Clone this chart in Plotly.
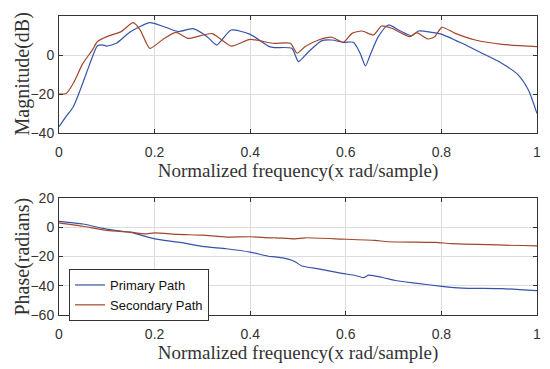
import plotly.graph_objects as go

# Magnitude (dB)
mag_p_x = [0, 0.015, 0.03, 0.045, 0.06, 0.07, 0.08, 0.09, 0.1, 0.12, 0.15, 0.19, 0.22, 0.25, 0.28, 0.31, 0.33, 0.36, 0.4, 0.44,
           0.452, 0.487, 0.501, 0.522, 0.55, 0.571, 0.595, 0.616, 0.63, 0.641, 0.651, 0.668, 0.689, 0.714,
           0.738, 0.752, 0.78, 0.801, 0.843, 0.885, 0.927, 0.961, 0.982, 1.0]
mag_p_y = [-36.8, -31.5, -26.5, -17.5, -7.5, -0.9, 4.6, 5.2, 4.6, 6, 12, 16.6, 14.5, 12, 13.5, 9.4, 5.1, 12.8, 10.6, 4.3,
           3.8, 3.4, -3.4, 1.7, 7.4, 7.7, 6.5, 6.5, 0.9, -5.6, 0, 9.4, 15.4, 12.3,
           9.9, 12.3, 11.6, 10.6, 6, 0.9, -4.3, -10.3, -18, -30]
mag_s_x = [0, 0.015, 0.03, 0.05, 0.07, 0.08, 0.1, 0.13, 0.155, 0.17, 0.19, 0.22, 0.245, 0.27, 0.32, 0.36, 0.4, 0.44,
           0.452, 0.484, 0.498, 0.515, 0.543, 0.571, 0.595, 0.613, 0.634, 0.658, 0.675, 0.696, 0.734, 0.748,
           0.772, 0.786, 0.801, 0.829, 0.871, 0.927, 1.0]
mag_s_y = [-20, -19.7, -14.5, -4.3, 2.6, 6.8, 9.4, 12, 16.6, 12.8, 3.4, 8.5, 11.6, 8.5, 11, 4.6, 8, 6.3,
           6, 6, 0.9, 4.3, 7.7, 9.1, 6.5, 11.1, 12.3, 10.3, 14.9, 13.7, 9.4, 11.5,
           8.2, 9.4, 14.2, 11.1, 7.7, 5.5, 4.3]

# Phase (radians)
ph_p_x = [0, 0.05, 0.1, 0.15, 0.2, 0.25, 0.3, 0.35, 0.4, 0.44, 0.452, 0.48, 0.494, 0.508, 0.543, 0.592,
          0.62, 0.637, 0.648, 0.675, 0.703, 0.745, 0.801, 0.843, 0.927, 1.0]
ph_p_y = [4, 2.2, -1.3, -3.5, -7.9, -10.2, -13.1, -14.7, -17, -20, -20.2, -21.8, -23.6, -26.5, -28.5, -31.5,
          -33, -34.4, -32.8, -34.2, -36.4, -38.2, -40.4, -41.6, -42, -43.4]
ph_s_x = [0, 0.05, 0.1, 0.15, 0.18, 0.2, 0.25, 0.3, 0.35, 0.4, 0.44, 0.452, 0.494, 0.515, 0.592, 0.661,
          0.689, 0.787, 0.822, 1.0]
ph_s_y = [3, 0.7, -2.2, -3.4, -4.5, -3.8, -4.9, -5.4, -6.7, -6.5, -7.2, -7.2, -7.9, -7.2, -8.1, -9,
          -9.9, -10.3, -11.2, -12.8]

x_ticks = [0, 0.2, 0.4, 0.6, 0.8, 1]
x_tick_labels = ["0", "0.2", "0.4", "0.6", "0.8", "1"]
mag_ticks = [-40, -20, 0, 20]
ph_ticks = [-60, -40, -20, 0, 20]

BLUE = "#3553A8"
RED = "#A2462C"

# page body has an 8px default margin; size the figure so it fills the window
W, H, OFF = 542, 361, 8
def fx(p):
    return (p - OFF) / W
def fy(p):
    return 1 - (p - OFF) / H

fig = go.Figure()
fig.add_trace(go.Scatter(x=mag_p_x, y=mag_p_y, mode="lines", line=dict(color=BLUE, width=1.2, shape="spline", smoothing=0.6),
                         xaxis="x", yaxis="y", showlegend=False))
fig.add_trace(go.Scatter(x=mag_s_x, y=mag_s_y, mode="lines", line=dict(color=RED, width=1.2, shape="spline", smoothing=0.6),
                         xaxis="x", yaxis="y", showlegend=False))
fig.add_trace(go.Scatter(x=ph_p_x, y=ph_p_y, mode="lines", line=dict(color=BLUE, width=1.2, shape="spline", smoothing=0.5),
                         xaxis="x2", yaxis="y2", name="Primary Path"))
fig.add_trace(go.Scatter(x=ph_s_x, y=ph_s_y, mode="lines", line=dict(color=RED, width=1.2, shape="spline", smoothing=0.5),
                         xaxis="x2", yaxis="y2", name="Secondary Path"))

tick_font = dict(family="Liberation Sans, Arial", size=14, color="#333")
xtitle_font = dict(family="Liberation Serif, Times New Roman", size=19, color="#333")
ytitle_font = dict(family="Liberation Serif, Times New Roman", size=20, color="#333")

common_x = dict(range=[0, 1], tickvals=x_ticks, ticktext=x_tick_labels,
                showgrid=True, gridcolor="#DDDDDD", gridwidth=1, zeroline=False,
                showline=True, linecolor="#333", linewidth=1, mirror="ticks",
                ticks="inside", ticklen=4, tickcolor="#333", tickfont=tick_font,
                ticklabelstandoff=6, automargin=False,
                domain=[fx(59), fx(537)],
                title=dict(text="Normalized frequency(x rad/sample)", font=xtitle_font, standoff=0))
common_y = dict(showgrid=True, gridcolor="#DDDDDD", gridwidth=1, zeroline=False,
                showline=True, linecolor="#333", linewidth=1, mirror="ticks",
                ticks="inside", ticklen=4, tickcolor="#333", tickfont=tick_font,
                ticklabelstandoff=1, automargin=False)

top_dom = [fy(133), fy(16)]
bot_dom = [fy(315), fy(198)]

fig.update_layout(
    width=W, height=H,
    margin=dict(l=0, r=0, t=0, b=0),
    paper_bgcolor="white", plot_bgcolor="white",
    xaxis=dict(common_x, anchor="y"),
    yaxis=dict(common_y, range=[-40, 20], tickvals=mag_ticks, anchor="x", domain=top_dom),
    xaxis2=dict(common_x, anchor="y2"),
    yaxis2=dict(common_y, range=[-60, 20], tickvals=ph_ticks, anchor="x2", domain=bot_dom),
    legend=dict(x=fx(69), y=fy(269), xanchor="left", yanchor="top",
                bgcolor="white", bordercolor="#333", borderwidth=1,
                font=dict(family="Liberation Sans, Arial", size=13, color="#111"),
                tracegroupgap=0, itemwidth=30),
    showlegend=True,
    annotations=[
        dict(text="Magnitude(dB)", xref="paper", yref="paper", x=fx(22), y=sum(top_dom)/2,
             textangle=-90, showarrow=False, font=ytitle_font, xanchor="center", yanchor="middle"),
        dict(text="Phase(radians)", xref="paper", yref="paper", x=fx(22), y=sum(bot_dom)/2,
             textangle=-90, showarrow=False, font=ytitle_font, xanchor="center", yanchor="middle"),
    ],
)

fig.write_html("out.html")
